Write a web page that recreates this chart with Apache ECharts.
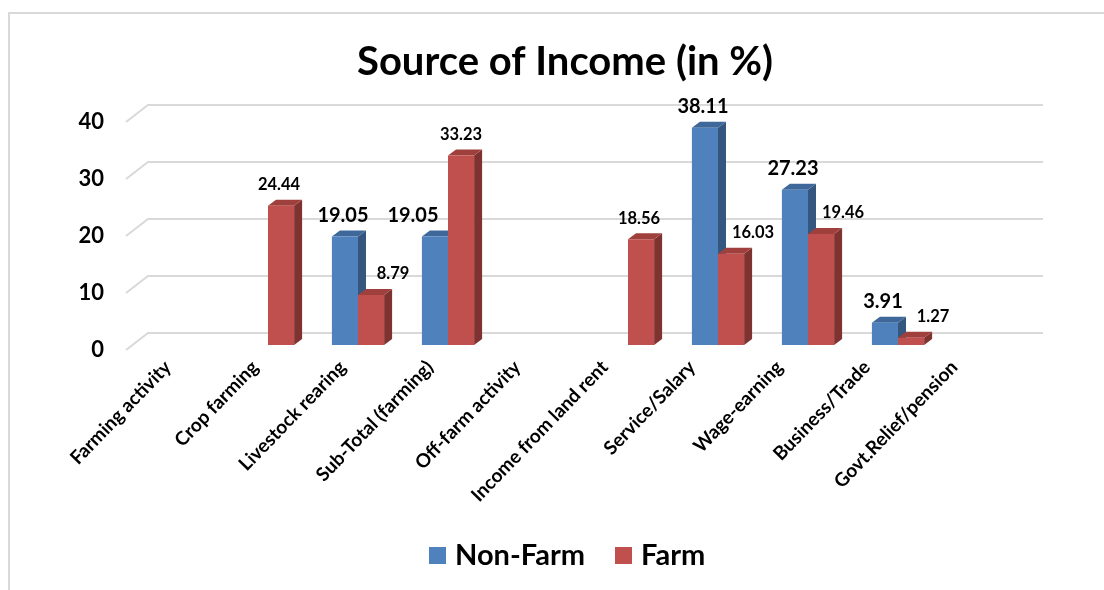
<!DOCTYPE html>
<html>
<head>
<meta charset="utf-8">
<script src="https://cdn.jsdelivr.net/npm/echarts@6/dist/echarts.min.js"></script>
<style>
html,body{margin:0;padding:0;background:#fff;}
#chart{width:1104px;height:590px;}
</style>
</head>
<body>
<div id="chart"></div>
<script>
var categories = ['Farming activity','Crop farming','Livestock rearing','Sub-Total (farming)','Off-farm activity','Income from land rent','Service/Salary','Wage-earning','Business/Trade','Govt.Relief/pension'];
var nonFarm = [null, null, 19.05, 19.05, null, null, 38.11, 27.23, 3.91, null];
var farm = [null, 24.44, 8.79, 33.23, null, 18.56, 16.03, 19.46, 1.27, null];
var yTicks = [0, 10, 20, 30, 40];

var FONT = 'Lato, "Open Sans", sans-serif';
var COLORS = {
  'Non-Farm': {front: '#4F81BD', top: '#3E6899', side: '#34567F'},
  'Farm': {front: '#C0504D', top: '#A0403D', side: '#7E3331'}
};
var DX = 8, DY = -6, FLOOR = -5;

function toData(arr) {
  var out = [];
  arr.forEach(function (v, i) { if (v !== null) out.push([i, v]); });
  return out;
}

function geom(api, isLeft) {
  var idx = api.value(0), val = api.value(1);
  var base = api.coord([idx, 0]);
  var topP = api.coord([idx, val]);
  var band = api.size([1, 0])[0];
  var w = band * 0.29;
  var x0 = isLeft ? base[0] - w : base[0];
  return {idx: idx, val: val, x0: x0, x1: x0 + w, yb: base[1] + FLOOR, yt: topP[1] + FLOOR};
}

function barRender(seriesName, isLeft) {
  var c = COLORS[seriesName];
  return function (params, api) {
    var g = geom(api, isLeft);
    var x0 = g.x0, x1 = g.x1, yb = g.yb, yt = g.yt;
    return {
      type: 'group',
      children: [
        {type: 'polygon', shape: {points: [[x1, yb], [x1 + DX, yb + DY], [x1 + DX, yt + DY], [x1, yt]]}, style: {fill: c.side}},
        {type: 'polygon', shape: {points: [[x0, yt], [x1, yt], [x1 + DX, yt + DY], [x0 + DX, yt + DY]]}, style: {fill: c.top}},
        {type: 'rect', shape: {x: x0, y: yt, width: x1 - x0, height: yb - yt}, style: {fill: c.front}}
      ]
    };
  };
}

function labelRender(isLeft) {
  return function (params, api) {
    var g = geom(api, isLeft);
    var lx = (g.x0 + g.x1) / 2;
    if (isLeft) {
      var other = farm[g.idx];
      if (other !== null && other > g.val) lx -= 22; else lx -= 2;
    } else {
      var partner = nonFarm[g.idx];
      if (partner !== null && partner > g.val) lx += 22;
      else if (partner === null) lx -= 2;
    }
    return {
      type: 'text',
      style: {text: g.val.toFixed(2), x: lx, y: g.yt - 21, align: 'center', verticalAlign: 'middle',
        fontSize: isLeft ? 20 : 16.5, fontWeight: 'bold', fontFamily: FONT, fill: '#000'}
    };
  };
}

function wallRender(params, api) {
  var cs = params.coordSys;
  var v = api.value(1);
  var y = api.coord([0, v])[1];
  var xl = cs.x;
  var xr = cs.x + cs.width;
  return {
    type: 'polyline',
    shape: {points: [[xl - 7, y], [xl + 15, y - 17], [xr + 10, y - 17]]},
    style: {stroke: '#D9D9D9', lineWidth: 2, fill: null}
  };
}

var chart = echarts.init(document.getElementById('chart'));
chart.setOption({
  backgroundColor: '#fff',
  animation: false,
  title: {
    text: 'Source of Income (in %)',
    left: 352,
    top: 37,
    textStyle: {fontSize: 40, fontWeight: 'bold', fontFamily: FONT, color: '#000'}
  },
  legend: {
    data: ['Non-Farm', 'Farm'],
    bottom: 15,
    left: 424,
    icon: 'rect',
    itemWidth: 17,
    itemHeight: 17,
    itemGap: 30,
    textStyle: {fontSize: 29, fontWeight: 'bold', fontFamily: FONT, color: '#000', padding: [0, 0, 0, 4]}
  },
  graphic: [
    {type: 'polyline', shape: {points: [[9, 590], [9, 13], [1104, 13]]}, style: {stroke: '#D9D9D9', lineWidth: 2, fill: null}, silent: true}
  ],
  grid: [
    {left: 133, right: 71, top: 122, bottom: 240},
    {left: 124, right: 106, top: 122, bottom: 240}
  ],
  xAxis: [
    {
      type: 'category',
      gridIndex: 0,
      data: categories,
      axisLine: {show: false},
      axisTick: {show: false},
      axisLabel: {show: false}
    },
    {
      type: 'category',
      gridIndex: 1,
      data: categories,
      axisLine: {show: false},
      axisTick: {show: false},
      axisLabel: {rotate: 46, interval: 0, margin: 14, fontSize: 19, fontWeight: 'bold', fontFamily: FONT, color: '#000'}
    }
  ],
  yAxis: [
    {
      type: 'value',
      gridIndex: 0,
      min: 0,
      max: 40,
      interval: 10,
      axisLine: {show: false},
      axisTick: {show: false},
      splitLine: {show: false},
      axisLabel: {margin: 29, fontSize: 22, fontWeight: 'bold', fontFamily: FONT, color: '#000'}
    },
    {
      type: 'value',
      gridIndex: 1,
      min: 0,
      max: 40,
      interval: 10,
      show: false,
      splitLine: {show: false}
    }
  ],
  series: [
    {name: 'wall', type: 'custom', renderItem: wallRender, data: yTicks.map(function (v) { return [0, v]; }), z: 1, silent: true},
    {name: 'Non-Farm', type: 'custom', renderItem: barRender('Non-Farm', true), data: toData(nonFarm), itemStyle: {color: COLORS['Non-Farm'].front}, z: 2},
    {name: 'Farm', type: 'custom', renderItem: barRender('Farm', false), data: toData(farm), itemStyle: {color: COLORS['Farm'].front}, z: 3},
    {name: 'Non-Farm labels', type: 'custom', renderItem: labelRender(true), data: toData(nonFarm), z: 4, silent: true},
    {name: 'Farm labels', type: 'custom', renderItem: labelRender(false), data: toData(farm), z: 4, silent: true}
  ]
});
</script>
</body>
</html>
